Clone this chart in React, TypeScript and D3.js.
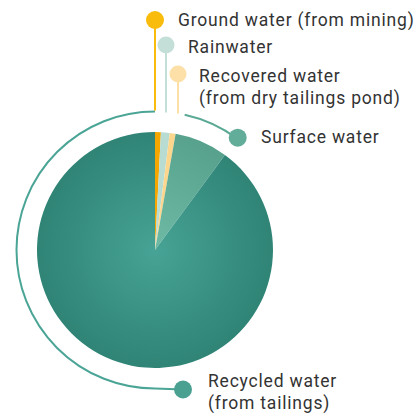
import { useEffect, useRef } from 'react';
import * as d3 from 'd3';

// water sources (share of total intake, %)
const sources = ['Ground water', 'Rainwater', 'Recovered water', 'Surface water', 'Recycled water'];
const shares = [0.8, 1.2, 0.8, 7.3, 89.9];
const sliceColors = ['#f5a700', '#b8dbd2', '#fdd68e', '#62b09c', '#3c9485'];
const dotColors = ['#f9bb0c', '#c3dfd8', '#fde0a8', '#62ad9a', '#4aa091'];
const labelLines = [
  ['Ground water (from mining)'],
  ['Rainwater'],
  ['Recovered water', '(from dry tailings pond)'],
  ['Surface water'],
  ['Recycled water', '(from tailings)'],
];

const W = 419;
const H = 417;

export default function App() {
  const svgRef = useRef<SVGSVGElement>(null);

  useEffect(() => {
    if (!svgRef.current) return;
    const svg = d3.select(svgRef.current);
    svg.selectAll('*').remove();

    const cx = 155;
    const cy = 250;
    const radius = 118;
    const ringR = 138.5;

    const defs = svg.append('defs');
    // gradients are in the local coords of the translated group
    const grad = defs
      .append('radialGradient')
      .attr('id', 'recycled')
      .attr('gradientUnits', 'userSpaceOnUse')
      .attr('cx', 0)
      .attr('cy', 0)
      .attr('r', radius);
    grad.append('stop').attr('offset', '0%').attr('stop-color', '#47a395');
    grad.append('stop').attr('offset', '100%').attr('stop-color', '#2f8476');

    const grad2 = defs
      .append('linearGradient')
      .attr('id', 'surface')
      .attr('gradientUnits', 'userSpaceOnUse')
      .attr('x1', 0)
      .attr('y1', 0)
      .attr('x2', 60)
      .attr('y2', -110);
    grad2.append('stop').attr('offset', '0%').attr('stop-color', '#6dbaa5');
    grad2.append('stop').attr('offset', '100%').attr('stop-color', '#56a08b');

    const data = shares.map((v, i) => ({ name: sources[i], value: v, i }));
    const pie = d3
      .pie<{ name: string; value: number; i: number }>()
      .value((d) => d.value)
      .sort(null);
    const arcs = pie(data);

    const arc = d3
      .arc<d3.PieArcDatum<{ name: string; value: number; i: number }>>()
      .innerRadius(0)
      .outerRadius(radius);

    const g = svg.append('g').attr('transform', `translate(${cx},${cy})`);

    g.selectAll('path.slice')
      .data(arcs)
      .join('path')
      .attr('class', 'slice')
      .attr('d', arc)
      .attr('fill', (d) =>
        d.data.i === 4 ? 'url(#recycled)' : d.data.i === 3 ? 'url(#surface)' : sliceColors[d.data.i]
      );

    // position on ring at angle a (radians, clockwise from top)
    const pt = (a: number, r: number) => [r * Math.sin(a), -r * Math.cos(a)];

    // ring: left half for recycled water, then tangent to its dot
    const ringArc = d3.arc()({
      innerRadius: ringR,
      outerRadius: ringR,
      startAngle: Math.PI,
      endAngle: 2 * Math.PI,
    } as any);
    g.append('path')
      .attr('d', ringArc)
      .attr('fill', 'none')
      .attr('stroke', '#4ba596')
      .attr('stroke-width', 2);

    const recycledDot = [28, ringR + 1];
    g.append('line')
      .attr('x1', 0)
      .attr('y1', ringR)
      .attr('x2', recycledDot[0])
      .attr('y2', recycledDot[1])
      .attr('stroke', '#4ba596')
      .attr('stroke-width', 2);

    // ring segment for surface water
    const surfStart = arcs[3].startAngle + 0.04;
    const surfEnd = arcs[3].endAngle;
    g.append('path')
      .attr(
        'd',
        d3.arc()({
          innerRadius: ringR,
          outerRadius: ringR,
          startAngle: surfStart,
          endAngle: surfEnd,
        } as any)
      )
      .attr('fill', 'none')
      .attr('stroke', '#5aa994')
      .attr('stroke-width', 2);

    const surfDot = pt(surfEnd, ringR + 1);

    // leader lines for the small slices
    const smallX = [0, 11, 23];
    const smallDotY = [20, 45, 74].map((y) => y - cy);
    const lineBottom = [-ringR - 1, -ringR + 1, -ringR + 2];
    [0, 1, 2].forEach((i) => {
      g.append('line')
        .attr('x1', smallX[i])
        .attr('x2', smallX[i])
        .attr('y1', smallDotY[i])
        .attr('y2', lineBottom[i])
        .attr('stroke', dotColors[i])
        .attr('stroke-width', 2);
    });

    const dots = [
      [smallX[0], smallDotY[0]],
      [smallX[1], smallDotY[1]],
      [smallX[2], smallDotY[2]],
      surfDot,
      recycledDot,
    ];
    const dotR = [9, 8.5, 8.5, 9, 9];

    g.selectAll('circle.dot')
      .data(dots)
      .join('circle')
      .attr('class', 'dot')
      .attr('cx', (d) => d[0])
      .attr('cy', (d) => d[1])
      .attr('r', (_, i) => dotR[i])
      .attr('fill', (_, i) => dotColors[i]);

    // labels
    const labelPos = [
      [178, 26],
      [188, 53],
      [199, 82],
      [261, 143],
      [208, 387],
    ];
    labelLines.forEach((lines, i) => {
      const t = svg
        .append('text')
        .attr('x', labelPos[i][0])
        .attr('y', labelPos[i][1])
        .attr('font-family', 'Roboto, sans-serif')
        .attr('font-size', 17.5)
        .attr('letter-spacing', 0.8)
        .attr('fill', '#333');
      lines.forEach((s, j) => {
        t.append('tspan')
          .attr('x', labelPos[i][0])
          .attr('dy', j === 0 ? 0 : 21.5)
          .text(s);
      });
    });
  }, []);

  return (
    <svg
      ref={svgRef}
      width={W}
      height={H}
      style={{ position: 'absolute', left: 0, top: 0, background: '#fff' }}
    />
  );
}
